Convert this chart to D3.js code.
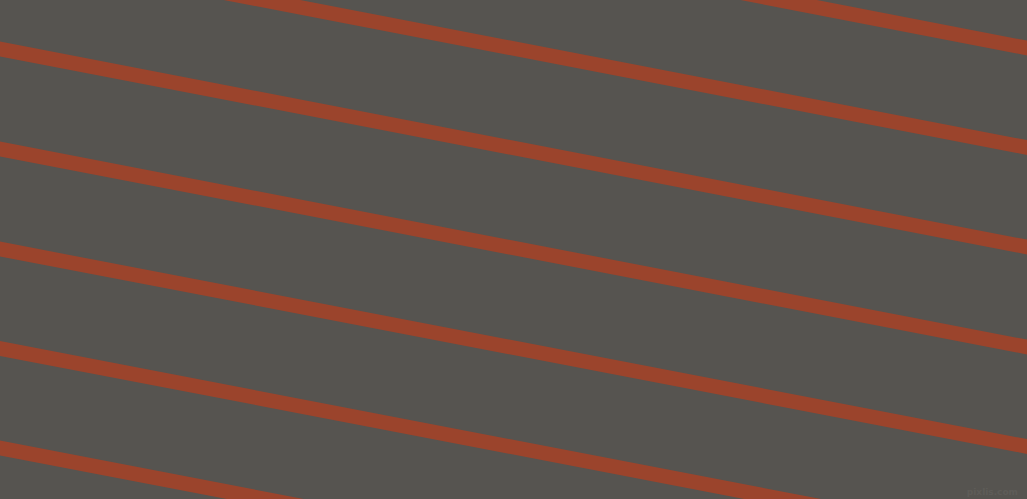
<!DOCTYPE html>
<html>
<head>
<meta charset="utf-8">
<script src="https://cdn.jsdelivr.net/npm/d3@7"></script>
<style>
  html, body { margin: 0; padding: 0; overflow: hidden; background: #565450; }
  svg { display: block; }
</style>
</head>
<body>
<div id="output"></div>
<script>
// stripe centre heights read at the left edge (x=0) and the right edge (x=1027)
const stripeLeftY = [-150.5, -50.5, 49, 149, 249, 348.5, 448];
const stripeRightY = [48, 147.5, 247, 347, 446.5, 546, 645.5];
const stripeIds = ['s1', 's2', 's3', 's4', 's5', 's6', 's7'];

const width = 1027;
const height = 499;

const x = d3.scaleLinear().domain([0, 1027]).range([0, width]);
const y = d3.scaleLinear().domain([0, 499]).range([0, height]);

const svg = d3.select('#output')
  .append('svg')
  .attr('width', width)
  .attr('height', height);

svg.append('rect')
  .attr('width', width)
  .attr('height', height)
  .attr('fill', '#565450');

const stripes = stripeIds.map((id, i) => ({
  id,
  pts: [[0, stripeLeftY[i]], [1027, stripeRightY[i]]]
}));

const line = d3.line()
  .x(d => x(d[0]))
  .y(d => y(d[1]));

// extend a little past each edge so the ends do not show
svg.selectAll('.stripe')
  .data(stripes)
  .join('path')
  .attr('class', 'stripe')
  .attr('d', d => {
    const [a, b] = d.pts;
    const k = (b[1] - a[1]) / (b[0] - a[0]);
    return line([[a[0] - 20, a[1] - 20 * k], [b[0] + 20, b[1] + 20 * k]]);
  })
  .attr('fill', 'none')
  .attr('stroke', '#9b442c')
  .attr('stroke-width', 14.5);

svg.append('text')
  .attr('x', 1018)
  .attr('y', 495)
  .attr('text-anchor', 'end')
  .attr('font-family', 'DejaVu Sans, sans-serif')
  .attr('font-size', 9)
  .attr('font-weight', 'bold')
  .attr('fill', '#5e5c58')
  .text('pixlis.com');
</script>
</body>
</html>
